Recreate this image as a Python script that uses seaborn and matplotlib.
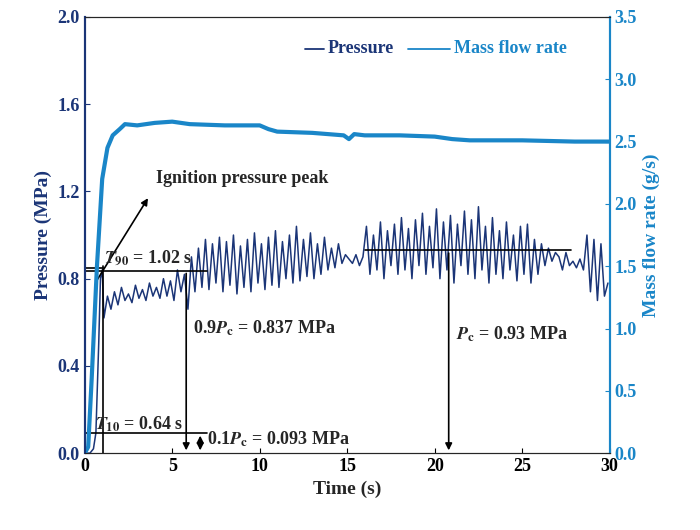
import matplotlib
matplotlib.use('Agg')
import matplotlib.pyplot as plt
import numpy as np
import seaborn as sns

NAVY = '#1b3577'
BLUE = '#1a86c8'

# Pressure start-up (s, MPa)
p_start_t = [0.0, 0.3, 0.5, 0.64, 0.8, 0.9, 1.0]
p_start = [0.0, 0.0, 0.02, 0.093, 0.50, 0.80, 0.84]
# Pressure from 1.1 s on, every 0.2 s
p_osc = [0.62, 0.72, 0.66, 0.74, 0.68, 0.76, 0.70, 0.73, 0.69, 0.77, 0.71, 0.75, 0.70,
         0.78, 0.72, 0.76, 0.71, 0.80, 0.72, 0.79, 0.70, 0.84, 0.74, 0.82, 0.66,
         0.90, 0.74, 0.94, 0.76, 0.98, 0.75, 0.96, 0.78, 0.99, 0.74, 0.97, 0.77, 1.00,
         0.73, 0.95, 0.76, 0.98, 0.74, 1.01, 0.78, 0.96, 0.75, 0.99, 0.77, 1.02, 0.76,
         0.97, 0.80, 1.00, 0.78, 1.04, 0.79, 0.98, 0.81, 1.01, 0.80, 0.96, 0.82, 0.99,
         0.84, 0.94, 0.85, 0.96, 0.87, 0.91,
         0.89, 0.87, 0.91, 0.86, 0.90,
         1.04, 0.82, 1.00, 0.84, 1.06, 0.80, 1.02, 0.86, 1.05, 0.82, 1.08, 0.84, 1.03,
         0.80, 1.07, 0.86, 1.10, 0.82, 1.04, 0.85, 1.12, 0.80, 1.06, 0.84, 1.09, 0.78,
         1.05, 0.86, 1.11, 0.82, 1.07, 0.80, 1.13, 0.84, 1.04, 0.78, 1.08, 0.82, 1.02,
         0.80, 1.06, 0.84, 1.00, 0.79, 1.04, 0.82, 1.05, 0.78, 0.98, 0.82, 0.96, 0.86,
         0.94, 0.88, 0.92,
         0.90, 0.84, 0.92, 0.86, 0.88, 0.85, 0.89, 0.84, 1.00, 0.74, 0.98, 0.70, 0.96,
         0.72, 0.78]
p_osc_t = [1.1 + 0.2 * i for i in range(len(p_osc))]

# Mass flow rate (s, g/s)
m_t = [0, 0.2, 0.4, 0.7, 1.0, 1.3, 1.6, 2.0, 2.3, 3, 4, 5, 6, 8, 10, 10.5, 11, 13,
       14.8, 15.1, 15.4, 16, 18, 20, 21, 22, 25, 28, 30]
m_flow = [0, 0.05, 0.6, 1.5, 2.2, 2.45, 2.55, 2.6, 2.64, 2.63, 2.65, 2.66, 2.64,
          2.63, 2.63, 2.6, 2.58, 2.57, 2.55, 2.52, 2.56, 2.55, 2.55, 2.54, 2.52,
          2.51, 2.51, 2.5, 2.5]

sns.set_style('ticks')
plt.rcParams['font.family'] = ['Liberation Serif', 'DejaVu Serif']
plt.rcParams['font.weight'] = 'bold'
plt.rcParams['mathtext.fontset'] = 'stix'

fig = plt.figure(figsize=(7, 5.3), dpi=100)
ax = fig.add_axes([0.121, 0.145, 0.75, 0.823])
ax2 = ax.twinx()

sns.lineplot(x=p_start_t + p_osc_t, y=p_start + p_osc, ax=ax, color=NAVY, lw=1.1,
             sort=False, estimator=None)
sns.lineplot(x=m_t, y=m_flow, ax=ax2, color=BLUE, lw=3, sort=False, estimator=None)

ax.set_xlim(0, 30)
ax.set_ylim(0, 2.0)
ax2.set_ylim(0, 3.5)
ax.set_xticks(range(0, 31, 5))
ax.set_yticks(np.arange(0, 2.01, 0.4))
ax2.set_yticks(np.arange(0, 3.51, 0.5))
ax.set_yticklabels(['%.1f' % v for v in np.arange(0, 2.01, 0.4)])
ax2.set_yticklabels(['%.1f' % v for v in np.arange(0, 3.51, 0.5)])
ax.tick_params(labelsize=13, direction='in')
ax.tick_params(axis='y', colors=NAVY)
ax.tick_params(axis='x', colors='black')
ax2.tick_params(labelsize=13, direction='in', colors=BLUE)
for lab in ax.get_xticklabels() + ax.get_yticklabels() + ax2.get_yticklabels():
    lab.set_fontweight('bold')
ax.set_xlabel('Time (s)', fontsize=14, fontweight='bold')
ax.set_ylabel('Pressure (MPa)', fontsize=14, fontweight='bold', color=NAVY)
ax2.set_ylabel('Mass flow rate (g/s)', fontsize=14, fontweight='bold', color=BLUE)
for a in (ax, ax2):
    a.spines['right'].set_color(BLUE)
    a.spines['left'].set_color(NAVY)
    a.spines['right'].set_linewidth(1.5)
    a.spines['left'].set_linewidth(1.5)

# annotations
k = dict(color='black', lw=1.2)
ax.plot([0, 7], [0.837, 0.837], **k)
ax.plot([0, 1.02], [0.85, 0.85], **k)
ax.plot([1.02, 1.02], [0, 0.86], **k)
ax.plot([0, 7], [0.093, 0.093], **k)
ax.plot([16, 27.8], [0.93, 0.93], **k)
arr = dict(arrowstyle='-|>', color='black', lw=1.2, mutation_scale=10)
ax.annotate('', xy=(5.8, 0), xytext=(5.8, 0.837), arrowprops=arr)
ax.annotate('', xy=(20.8, 0), xytext=(20.8, 0.93), arrowprops=arr)
ax.annotate('', xy=(6.6, 0.093), xytext=(6.6, 0.03), arrowprops=arr)
ax.annotate('', xy=(6.6, 0.0), xytext=(6.6, 0.06), arrowprops=arr)
ax.annotate('', xy=(3.7, 1.18), xytext=(0.6, 0.78), arrowprops=arr)
ax.text(4.1, 1.24, 'Ignition pressure peak', fontsize=13, fontweight='bold')
ax.text(1.1, 0.87, r'$T_{90}$ = 1.02 s', fontsize=13, fontweight='bold')
ax.text(6.2, 0.55, r'0.9$P_{\rm c}$ = 0.837 MPa', fontsize=13, fontweight='bold')
ax.text(21.2, 0.52, r'$P_{\rm c}$ = 0.93 MPa', fontsize=13, fontweight='bold')
ax.text(0.6, 0.11, r'$T_{10}$ = 0.64 s', fontsize=13, fontweight='bold')
ax.text(7.0, 0.04, r'0.1$P_{\rm c}$ = 0.093 MPa', fontsize=13, fontweight='bold')

# legend
ax.plot([12.6, 13.7], [1.855, 1.855], color=NAVY, lw=1.3)
ax.text(13.9, 1.855, 'Pressure', color=NAVY, fontsize=13, fontweight='bold', va='center')
ax.plot([18.5, 20.9], [1.855, 1.855], color=BLUE, lw=1.3)
ax.text(21.1, 1.855, 'Mass flow rate', color=BLUE, fontsize=13, fontweight='bold',
        va='center')

fig.savefig('out.png', dpi=100)
